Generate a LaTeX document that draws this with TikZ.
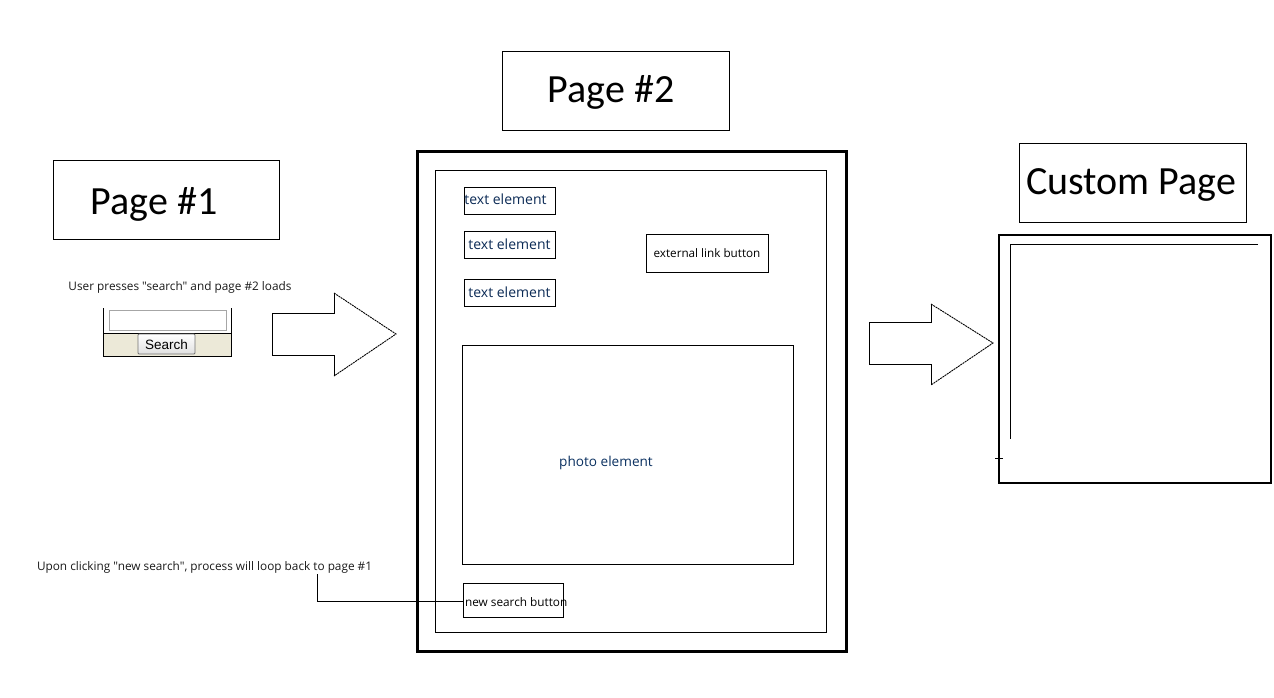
\documentclass[tikz,border=0pt]{standalone}
\usepackage{fontspec}
\setmainfont{Carlito}
\newfontfamily\uifont{Liberation Sans}
\newfontfamily\segoe{Open Sans}
\definecolor{beige}{HTML}{ECE9D8}
\definecolor{navy}{HTML}{0B2A55}
\definecolor{inkblue}{HTML}{0A3060}
\newcommand{\lowered}[2]{\raisebox{-#1}[\height][\depth]{#2}}
\begin{document}
\begin{tikzpicture}[x=1pt,y=-1pt,
  every node/.style={inner sep=0pt, outer sep=0pt},
  title/.style={draw, line width=1pt, font=\fontsize{40}{44}\selectfont},
  elem/.style={draw, line width=1pt, text=navy, font=\segoe\fontsize{14}{15}\selectfont},
  small/.style={font=\segoe\fontsize{11.8}{13}\selectfont, text=black!90},
  thin/.style={line width=1pt},
  arrowbody/.style={line width=1pt, line join=miter},
  arrowhead/.style={line width=0.9pt, dash pattern=on 2pt off 0.7pt}]
\useasboundingbox (0,0) rectangle (1274,697);

% titles
\node[title, minimum width=226, minimum height=79] (p1) at (166,199.5) {\lowered{5pt}{Page \#1\kern24pt}};
\node[title, minimum width=227, minimum height=79] (p2) at (615.5,90.5) {\lowered{2pt}{Page \#2\kern9pt}};
\node[title, minimum width=227, minimum height=79] (cp) at (1132.5,182.5) {\lowered{2pt}{Custom Page\kern3pt}};

% page 1 text
\node[small] (t1) at (180,287) {User presses "search" and page \#2 loads};

% search widget
\fill[beige] (104,333) rectangle (231,356);
\draw[thin] (103,308) -- (103,356) -- (231,356) -- (231,308);
\draw[thin] (103,333) -- (231,333);
\draw[line width=1pt, black!35] (109,310) rectangle (226,330);
\node[draw=black!55, line width=0.8pt, rounded corners=1pt, top color=white, bottom color=black!12,
  minimum width=57, minimum height=20, font=\uifont\fontsize{13.5}{15}\selectfont] (sb) at (166.5,344) {\lowered{1pt}{Search}};

% arrow 1
\draw[arrowbody] (334,293) -- (334,313) -- (272,313) -- (272,355) -- (334,355) -- (334,376);
\draw[arrowhead] (334,293) -- (396,334) -- (334,376);

% page 2 frame
\node[draw, line width=3pt, minimum width=429, minimum height=500] (f2) at (631.5,401) {};
\node[draw, line width=1pt, minimum width=391, minimum height=462] (i2) at (630.5,401) {};

\node[elem, minimum width=91, minimum height=27] (e1) at (509.5,200.5) {\lowered{-1pt}{text element\kern8pt}};
\node[elem, minimum width=91, minimum height=27] (e2) at (509.5,244.5) {text element};
\node[elem, minimum width=91, minimum height=27] (e3) at (509.5,292.5) {text element};
\node[draw, line width=1pt, minimum width=122, minimum height=38, font=\segoe\fontsize{11.7}{13}\selectfont] (ext) at (707,253) {external link button};
\node[draw, line width=1pt, minimum width=331, minimum height=219] (ph) at (627.5,454.5) {};
\node[text=inkblue, font=\segoe\fontsize{13.6}{16}\selectfont] (pht) at (606,463) {photo element};
\node[draw, line width=1pt, minimum width=100, minimum height=34, font=\segoe\fontsize{11.8}{14}\selectfont] (ns) at (513,600) {\lowered{2pt}{\makebox[96pt][l]{new search button}}};

% loop note
\node[small, anchor=west] (t2) at (37,567) {Upon clicking "new search", process will loop back to page \#1};
\coordinate (lp) at (317,574);
\draw[thin] (ns.west |- 0,601) -| (lp);

% arrow 2
\draw[arrowbody] (931,304) -- (931,322) -- (869,322) -- (869,364) -- (931,364) -- (931,385);
\draw[arrowhead] (931,304) -- (993,343) -- (931,385);

% custom page frame
\node[draw, line width=2pt, minimum width=272, minimum height=248] (cf) at (1135,359) {};
\draw[thin] (1258,244) -- (1010,244) -- (1010,439);
\draw[thin] (995,458) -- (1003,458);
\end{tikzpicture}
\end{document}
